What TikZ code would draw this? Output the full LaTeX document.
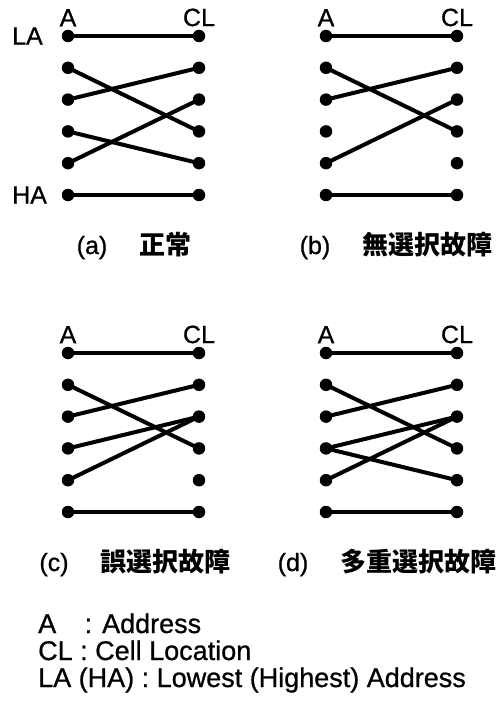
\documentclass[tikz,border=0pt]{standalone}
\usepackage{fontspec}
\setmainfont{Liberation Sans}[FakeBold=0.8]
\newfontfamily\jpfont{Noto Sans CJK JP}
\usetikzlibrary{positioning}
\DeclareRobustCommand{\jp}[1]{{\jpfont\bfseries\fontsize{26}{26}\selectfont #1}}

\begin{document}
\begin{tikzpicture}[
    x=1pt, y=-1pt,
    dot/.style={circle, fill, inner sep=0pt, minimum size=12.5pt},
    wire/.style={line width=4pt},
    lbl/.style={inner sep=0pt, font=\fontsize{25}{25}\selectfont},
    subcap/.style={inner sep=0pt, anchor=base, font=\fontsize{25}{25}\selectfont},
    key/.style={inner sep=0pt, anchor=base west, font=\fontsize{27}{27}\selectfont}
]
\useasboundingbox (0,0) rectangle (500,714);

\foreach \p/\sx/\sy in {a/68/36, b/326/36, c/68/353, d/326/353} {
  \begin{scope}[shift={(\sx,\sy)}, name prefix=\p-]
    \foreach \i in {0,...,5} {
      \node[dot] (A\i) at (0,31.8*\i) {};
      \node[dot] (C\i) at (131,31.8*\i) {};
    }
    \node[lbl, above=3pt of A0] (headA) {A};
    \node[lbl, above=3pt of C0] (headC) {CL};
  \end{scope}
}

\node[lbl, anchor=west] (la) at (12,36) {LA};
\node[lbl, anchor=west] (ha) at (12,195) {HA};

\draw[wire] (a-A0.center) -- (a-C0.center);
\draw[wire] (a-A1.center) -- (a-C3.center);
\draw[wire] (a-A2.center) -- (a-C1.center);
\draw[wire] (a-A3.center) -- (a-C4.center);
\draw[wire] (a-A4.center) -- (a-C2.center);
\draw[wire] (a-A5.center) -- (a-C5.center);

\draw[wire] (b-A0.center) -- (b-C0.center);
\draw[wire] (b-A1.center) -- (b-C3.center);
\draw[wire] (b-A2.center) -- (b-C1.center);
\draw[wire] (b-A4.center) -- (b-C2.center);
\draw[wire] (b-A5.center) -- (b-C5.center);

\draw[wire] (c-A0.center) -- (c-C0.center);
\draw[wire] (c-A1.center) -- (c-C3.center);
\draw[wire] (c-A2.center) -- (c-C1.center);
\draw[wire] (c-A3.center) -- (c-C2.center);
\draw[wire] (c-A4.center) -- (c-C2.center);
\draw[wire] (c-A5.center) -- (c-C5.center);

\draw[wire] (d-A0.center) -- (d-C0.center);
\draw[wire] (d-A1.center) -- (d-C3.center);
\draw[wire] (d-A2.center) -- (d-C1.center);
\draw[wire] (d-A3.center) -- (d-C2.center);
\draw[wire] (d-A3.center) -- (d-C4.center);
\draw[wire] (d-A4.center) -- (d-C2.center);
\draw[wire] (d-A5.center) -- (d-C5.center);

\node[subcap] (capa) at (134,254) {(a)\hspace{32pt}\jp{正常}};
\node[subcap] (capb) at (396,254) {(b)\hspace{32pt}\jp{無選択故障}};
\node[subcap] (capc) at (135,571) {(c)\hspace{32pt}\jp{誤選択故障}};
\node[subcap] (capd) at (387,571) {(d)\hspace{32pt}\jp{多重選択故障}};

\node[key] (keyA) at (38,633) {\makebox[1.72em][l]{A}: Address};
\node[key] (keyCL) at (38,660) {CL : Cell Location};
\node[key] (keyLA) at (38,687) {LA (HA) : Lowest (Highest) Address};
\end{tikzpicture}
\end{document}
